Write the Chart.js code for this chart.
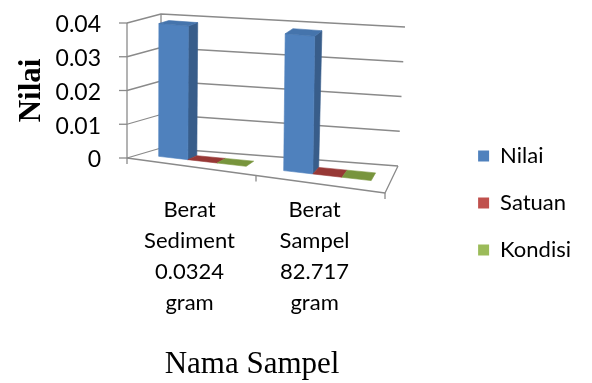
<!DOCTYPE html>
<html>
<head>
<meta charset="utf-8">
<title>Nilai</title>
<script src="https://cdn.jsdelivr.net/npm/chart.js@4.4.1/dist/chart.umd.min.js"></script>
<style>
  html, body { margin: 0; padding: 0; background: #ffffff; }
  #c { display: block; }
</style>
</head>
<body>
<canvas id="c" width="592" height="383"></canvas>
<script>
// Category labels (multi-line), series names and values
const categories = [
  ["Berat", "Sediment", "0.0324", "gram"],
  ["Berat", "Sampel", "82.717", "gram"]
];
const seriesNames = ["Nilai", "Satuan", "Kondisi"];
const nilaiValues = [0.0393, 0.0395];
const satuanValues = [0, 0];
const kondisiValues = [0, 0];
const yTickValues = [0, 0.01, 0.02, 0.03, 0.04];

// Face colours of the 3-D columns: front, right side, top
const faceColors = [
  { front: '#4F81BD', side: '#385D8A', top: '#4574AC' },
  { front: '#C0504D', side: '#8C3836', top: '#973835' },
  { front: '#9BBB59', side: '#71893F', top: '#78953D' }
];

// Perspective box: corner offsets of the floor/walls relative to the front-left corner of the plot
function makeProjection(a) {
  const L = a.left, T = a.top, B = a.bottom;
  const F = { bl: [L, B], br: [L + 258, B + 35], tl: [L, T], tr: [L + 258, T + 27] };
  const K = { bl: [L + 34, B - 10], br: [L + 271, B + 8], tl: [L + 34, T - 9], tr: [L + 278, T + 4] };
  const lerp = (p, q, t) => [p[0] + (q[0] - p[0]) * t, p[1] + (q[1] - p[1]) * t];
  // u: across categories, w: along the value axis, d: depth (0 front, 1 back)
  return (u, w, d) => {
    const f = lerp(lerp(F.bl, F.br, u), lerp(F.tl, F.tr, u), w);
    const k = lerp(lerp(K.bl, K.br, u), lerp(K.tl, K.tr, u), w);
    return lerp(f, k, d);
  };
}

const box3d = {
  id: 'box3d',
  beforeDatasetsDraw(chart) {
    const ctx = chart.ctx;
    const a = chart.chartArea;
    const xs = chart.scales.x, ys = chart.scales.y;
    const W = a.right - a.left, H = a.bottom - a.top;
    const P = makeProjection(a);
    const toU = px => (px - a.left) / W;
    const toW = py => (a.bottom - py) / H;

    const line = pts => {
      ctx.beginPath();
      ctx.moveTo(pts[0][0], pts[0][1]);
      for (let i = 1; i < pts.length; i++) ctx.lineTo(pts[i][0], pts[i][1]);
      ctx.stroke();
    };
    const poly = (pts, color) => {
      ctx.beginPath();
      ctx.moveTo(pts[0][0], pts[0][1]);
      for (let i = 1; i < pts.length; i++) ctx.lineTo(pts[i][0], pts[i][1]);
      ctx.closePath();
      ctx.fillStyle = color;
      ctx.fill();
      ctx.strokeStyle = color;
      ctx.lineWidth = 0.6;
      ctx.stroke();
    };

    ctx.save();
    ctx.lineJoin = 'round';
    ctx.strokeStyle = '#8a8a8a';
    ctx.lineWidth = 1.3;

    // side wall and back wall gridlines
    yTickValues.forEach(v => {
      const w = toW(ys.getPixelForValue(v));
      line([P(0, w, 0), P(0, w, 1), P(1, w, 1)]);
    });
    line([P(0, 0, 1), P(0, 1, 1)]);
    // floor front and right edges
    line([P(0, 0, 0), P(1, 0, 0), P(1, 0, 1)]);
    // value axis
    line([P(0, 0, 0), P(0, 1, 0)]);
    yTickValues.forEach(v => {
      const p = P(0, toW(ys.getPixelForValue(v)), 0);
      line([[p[0] - 8, p[1]], p]);
    });
    // category boundary ticks
    const centers = categories.map((c, i) => xs.getPixelForValue(i));
    const bounds = [a.left];
    for (let i = 1; i < centers.length; i++) bounds.push((centers[i - 1] + centers[i]) / 2);
    bounds.push(a.right);
    bounds.forEach(px => {
      const p = P(toU(px), 0, 0);
      line([p, [p[0], p[1] + 6]]);
    });

    // columns
    const d0 = 0.38, d1 = 0.68;
    categories.forEach((c, j) => {
      chart.data.datasets.forEach((ds, i) => {
        const el = chart.getDatasetMeta(i).data[j];
        const { x, y, base, width } = el.getProps(['x', 'y', 'base', 'width'], true);
        const u0 = toU(x - width / 2), u1 = toU(x + width / 2);
        const w0 = toW(base), w1 = toW(y);
        const col = faceColors[i];
        if (w1 - w0 > 0.002) {
          poly([P(u1, w0, d0), P(u1, w0, d1), P(u1, w1, d1), P(u1, w1, d0)], col.side);
          poly([P(u0, w0, d0), P(u1, w0, d0), P(u1, w1, d0), P(u0, w1, d0)], col.front);
        }
        poly([P(u0, w1, d0), P(u1, w1, d0), P(u1, w1, d1), P(u0, w1, d1)], col.top);
      });
    });
    ctx.restore();
    return false;
  }
};

const labelFont = { family: 'Lato', size: 22 };

new Chart(document.getElementById('c'), {
  type: 'bar',
  data: {
    labels: categories,
    datasets: [
      { label: seriesNames[0], data: nilaiValues, backgroundColor: faceColors[0].front },
      { label: seriesNames[1], data: satuanValues, backgroundColor: faceColors[1].front },
      { label: seriesNames[2], data: kondisiValues, backgroundColor: faceColors[2].front }
    ]
  },
  options: {
    responsive: false,
    devicePixelRatio: 1,
    animation: false,
    datasets: { bar: { categoryPercentage: 0.7, barPercentage: 1.0, borderWidth: 0 } },
    layout: { padding: { top: 23, left: 0, right: 11, bottom: 0 } },
    plugins: {
      tooltip: { enabled: false },
      legend: {
        position: 'right',
        maxWidth: 200,
        labels: {
          boxWidth: 11, boxHeight: 11, padding: 25,
          font: labelFont, color: '#000000'
        }
      }
    },
    scales: {
      x: {
        type: 'category',
        offset: true,
        grid: { display: false, drawTicks: false },
        border: { display: false },
        ticks: {
          font: { family: 'Lato', size: 22, lineHeight: 31 / 22 },
          color: '#000000', padding: 36, maxRotation: 0, autoSkip: false
        },
        title: {
          display: true, text: 'Nama Sampel', color: '#000000',
          font: { family: 'Liberation Serif', size: 31, weight: 'normal' },
          padding: { top: 0, bottom: 0 }
        },
        afterFit(s) { s.height = 225; s.paddingLeft = 0; s.paddingRight = 0; }
      },
      y: {
        min: 0, max: 0.04,
        grid: { display: false, drawTicks: false },
        border: { display: false },
        afterBuildTicks(s) { s.ticks = yTickValues.map(v => ({ value: v })); },
        ticks: {
          font: { family: 'Lato', size: 23 }, color: '#000000', padding: 26, labelOffset: 2,
          callback: v => String(v)
        },
        title: {
          display: true, text: 'Nilai', color: '#000000',
          font: { family: 'Liberation Serif', size: 31, weight: 'bold' },
          padding: { top: 13, bottom: 0 }
        },
        afterFit(s) { s.width = 127; s.paddingTop = 0; s.paddingBottom = 0; }
      },
      spacer: {
        type: 'linear',
        position: 'right',
        grid: { display: false, drawTicks: false },
        border: { display: false },
        ticks: { display: false },
        afterFit(s) { s.width = 76; s.paddingTop = 0; s.paddingBottom = 0; }
      }
    }
  },
  plugins: [box3d]
});
</script>
</body>
</html>
